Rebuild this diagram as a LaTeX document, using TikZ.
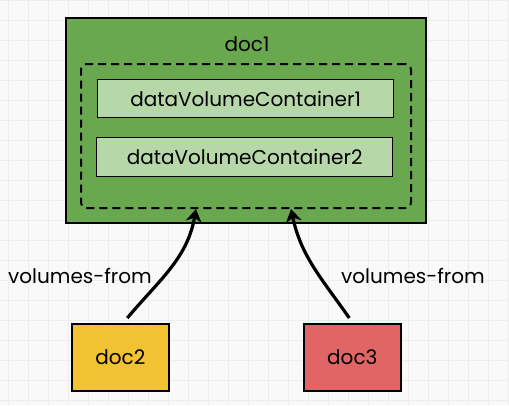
\documentclass[tikz,border=0pt]{standalone}
\usepackage{fontspec}
\setmainfont{Poppins}
\usetikzlibrary{arrows.meta}
\definecolor{bgc}{HTML}{F9F9F9}
\definecolor{gridc}{HTML}{EDEDED}
\definecolor{outerg}{HTML}{6AA84F}
\definecolor{innerg}{HTML}{B6D7A8}
\definecolor{yel}{HTML}{F1C232}
\definecolor{redc}{HTML}{E06666}
\tikzset{
  box/.style={draw=black, line width=1.6pt, inner sep=0pt},
  lbl/.style={font=\fontsize{20}{24}\selectfont, text=black},
  conn/.style={line width=3.2pt, -{Stealth[length=13pt,width=16pt]}},
}
\begin{document}
\begin{tikzpicture}[x=1pt,y=-1pt]
\useasboundingbox (0,0) rectangle (509,405);
\fill[bgc] (0,0) rectangle (509,405);
\foreach \x in {8,28,...,508} \draw[gridc, line width=1pt] (\x,0) -- (\x,405);
\foreach \y in {0,20,...,400} \draw[gridc, line width=1pt] (0,\y) -- (509,\y);
\node[box, fill=outerg, minimum width=360pt, minimum height=205pt, anchor=north west] (outer) at (65,17) {};
\node[lbl] (doc1) at (247,44) {doc1};
\node[draw=black, line width=2pt, dash pattern=on 8pt off 5pt, rounded corners=6pt, minimum width=330pt, minimum height=144pt, anchor=north west] (dashed) at (80,63) {};
\node[box, line width=1.3pt, fill=innerg, minimum width=296pt, minimum height=38pt, anchor=north west, lbl] (v1) at (97,79) {dataVolumeContainer1};
\node[box, line width=1.3pt, fill=innerg, minimum width=296pt, minimum height=39pt, anchor=north west, lbl] (v2) at (96,137) {dataVolumeContainer2};
\node[box, fill=yel, minimum width=97pt, minimum height=67pt, anchor=north west, lbl] (doc2) at (71,323) {doc2};
\node[box, fill=redc, minimum width=97pt, minimum height=67pt, anchor=north west, lbl] (doc3) at (303,323) {doc3};
\draw[conn] ([xshift=7pt,yshift=5pt]doc2.north) to[out=50,in=-100] ([xshift=-50pt]dashed.south);
\draw[conn] ([xshift=-3pt,yshift=5pt]doc3.north) to[out=125,in=-78] ([xshift=45pt]dashed.south);
\node[lbl] (vf1) at (80,276) {volumes-from};
\node[lbl] (vf2) at (413,276) {volumes-from};
\end{tikzpicture}
\end{document}
